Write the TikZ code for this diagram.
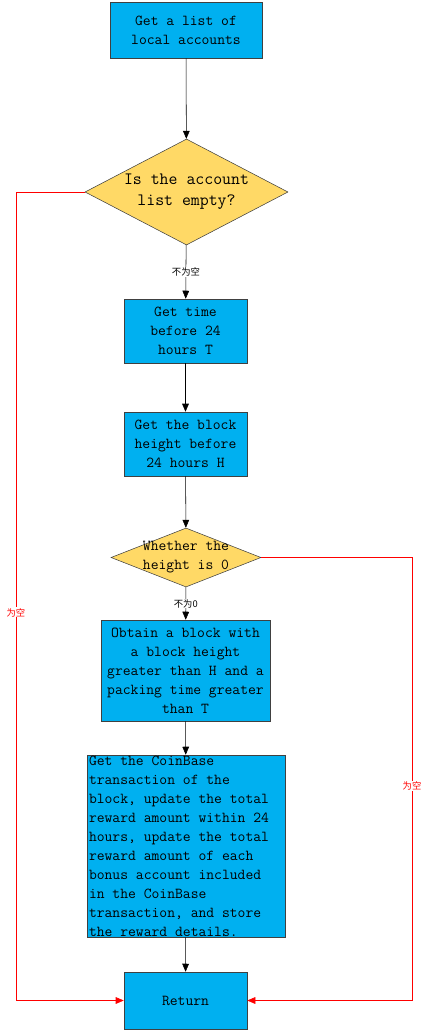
\documentclass[tikz,border=0pt]{standalone}
\usepackage{fontspec}
\newfontfamily\cjk{Noto Sans CJK SC}
\usetikzlibrary{shapes.geometric,arrows.meta}
\definecolor{boxblue}{HTML}{00B0F0}
\definecolor{diayellow}{HTML}{FFD966}
\definecolor{edgegray}{HTML}{404040}
\begin{document}
\begin{tikzpicture}[x=0.75pt,y=-0.75pt,
  box/.style={draw=edgegray, fill=boxblue, rectangle, inner sep=0pt,
    font=\ttfamily\fontsize{11.4}{14.25}\selectfont, align=center},
  dia/.style={draw=edgegray, fill=diayellow, diamond, inner sep=0pt},
  diatext/.style={inner sep=0pt, align=center},
  flow/.style={draw=black, -{Triangle[length=6pt,width=5pt]}},
  back/.style={draw=red, -{Triangle[length=6pt,width=5pt]}},
  lab/.style={fill=white, inner sep=0.5pt, font=\cjk\fontsize{7}{8}\selectfont},
  redlab/.style={lab, text=red}
]
\useasboundingbox (0,0) rectangle (429,1031);

\node[box, minimum width=114pt, minimum height=42pt] (b1) at (186,30)
  {Get a list of\\local accounts};
\node[dia, minimum width=152.25pt, minimum height=79.5pt] (d1) at (186.5,192) {};
\node[diatext, font=\ttfamily\fontsize{13}{15.75}\selectfont] (t1) at (186.5,192)
  {Is the account\\list empty?};
\node[box, minimum width=92.25pt, minimum height=48pt] (b2) at (185.5,331)
  {Get time\\before 24\\hours T};
\node[box, minimum width=92.25pt, minimum height=48pt] (b3) at (185.5,444)
  {Get the block\\height before\\24 hours H};
\node[dia, minimum width=112.5pt, minimum height=44.25pt] (d2) at (186,557.5) {};
\node[diatext, font=\ttfamily\fontsize{11.4}{14.25}\selectfont] (t2) at (186,557.5)
  {Whether the\\height is 0};
\node[box, minimum width=126.75pt, minimum height=75.75pt] (b4) at (185.5,670.5)
  {Obtain a block with\\a block height\\greater than H and a\\packing time greater\\than T};
\node[box, minimum width=148.5pt, minimum height=136.5pt] (b5) at (186,846) {};
\node[inner sep=0pt, anchor=west, align=left,
  font=\ttfamily\fontsize{11.4}{14.25}\selectfont] (t5) at ([xshift=1.5pt]b5.west)
  {Get the CoinBase\\transaction of the\\block, update the total\\reward amount within 24\\hours, update the total\\reward amount of each\\bonus account included\\in the CoinBase\\transaction, and store\\the reward details.};
\node[box, minimum width=92.25pt, minimum height=42.75pt] (ret) at (185.5,1000.5)
  {Return};

\coordinate (cl) at (16,192);
\coordinate (cr) at (412,557.5);

\draw[flow] (b1) -- (d1);
\draw[flow] (d1) -- node[lab] (l1) {不为空} (b2);
\draw[flow] (b2) -- (b3);
\draw[flow] (b3) -- (d2);
\draw[flow] (d2) -- node[lab, pos=0.5] (l2) {不为0} (b4);
\draw[flow] (b4) -- (b5);
\draw[flow] (b5) -- (ret);

\draw[back] (d1.west) -- (cl) |- node[redlab, pos=0.26] (l3) {为空} (ret.west);
\draw[back] (d2.east) -- (cr) |- node[redlab, pos=0.258] (l4) {为空} (ret.east);
\end{tikzpicture}
\end{document}
